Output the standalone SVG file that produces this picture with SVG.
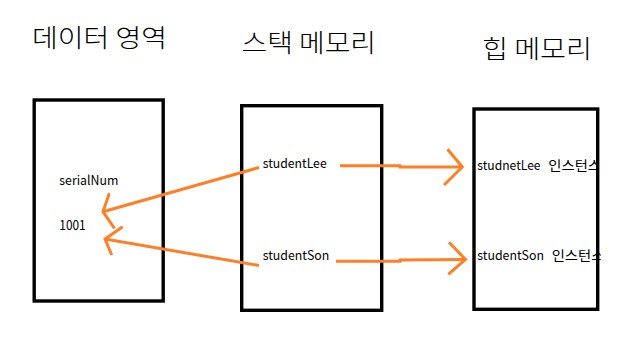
<svg xmlns="http://www.w3.org/2000/svg" width="637" height="350" viewBox="0 0 637 350">
  <style>
    .box { fill: #ffffff; stroke: #000000; stroke-width: 3.4; }
    .title { font-family: "Noto Sans CJK KR", "Liberation Sans", sans-serif; font-size: 25px; font-weight: 300; fill: #000000; }
    .label { font-family: "Noto Sans CJK KR", "Liberation Sans", sans-serif; font-size: 13px; fill: #000000; }
    .arrow { fill: none; stroke: #ff7f27; stroke-width: 3; stroke-linecap: butt; stroke-linejoin: miter; }
  </style>
  <defs>
    <clipPath id="clipRow1"><rect x="470" y="150" width="126.7" height="30"/></clipPath>
    <clipPath id="clipRow2"><rect x="470" y="240" width="130.7" height="30"/></clipPath>
  </defs>
  <rect width="637" height="350" fill="#ffffff"/>

  <text class="title" x="32" y="46.5" textLength="135" lengthAdjust="spacingAndGlyphs">데이터 영역</text>
  <text class="title" x="241.5" y="51.5" textLength="134.5" lengthAdjust="spacingAndGlyphs">스택 메모리</text>
  <text class="title" x="482" y="58" textLength="110" lengthAdjust="spacingAndGlyphs">힙 메모리</text>

  <g id="data-area">
    <rect class="box" x="34.2" y="100" width="129" height="201"/>
    <text class="label" x="59.3" y="185" textLength="59" lengthAdjust="spacingAndGlyphs">serialNum</text>
    <text class="label" x="59.3" y="230" textLength="26.4" lengthAdjust="spacingAndGlyphs">1001</text>
  </g>

  <g id="stack-memory">
    <rect class="box" x="241.7" y="105.7" width="140" height="204.6"/>
    <text class="label" x="262.7" y="168.3" textLength="64" lengthAdjust="spacingAndGlyphs">studentLee</text>
    <text class="label" x="262.7" y="260" textLength="66.6" lengthAdjust="spacingAndGlyphs">studentSon</text>
  </g>

  <g id="heap-memory">
    <rect class="box" x="474" y="109" width="123.7" height="200.3"/>
    <text class="label" y="170" clip-path="url(#clipRow1)"><tspan x="477.3" textLength="63.3" lengthAdjust="spacingAndGlyphs">studnetLee</tspan><tspan x="548.3" textLength="52.7" lengthAdjust="spacingAndGlyphs">인스턴스</tspan></text>
    <text class="label" y="260" clip-path="url(#clipRow2)"><tspan x="477.3" textLength="66.7" lengthAdjust="spacingAndGlyphs">studentSon</tspan><tspan x="551.7" textLength="52.7" lengthAdjust="spacingAndGlyphs">인스턴스</tspan></text>
  </g>

  <g id="connectors">
    <polyline class="arrow" points="259,167.5 103,211.7"/>
    <polyline class="arrow" points="109.3,193.3 103,211.7 114.5,228.5"/>
    <polyline class="arrow" points="259,265.5 105,239"/>
    <polyline class="arrow" points="122.7,226.7 105,239 111.7,255"/>
    <polyline class="arrow" points="340,165.7 400,165.7 400,167 462.3,167"/>
    <polyline class="arrow" points="447.5,149.3 462.3,167 444,185"/>
    <polyline class="arrow" points="336,261.3 400,261.3 400,260 465.5,259.5"/>
    <polyline class="arrow" points="449,242.3 465.5,259.5 448.3,274.3"/>
  </g>
</svg>
